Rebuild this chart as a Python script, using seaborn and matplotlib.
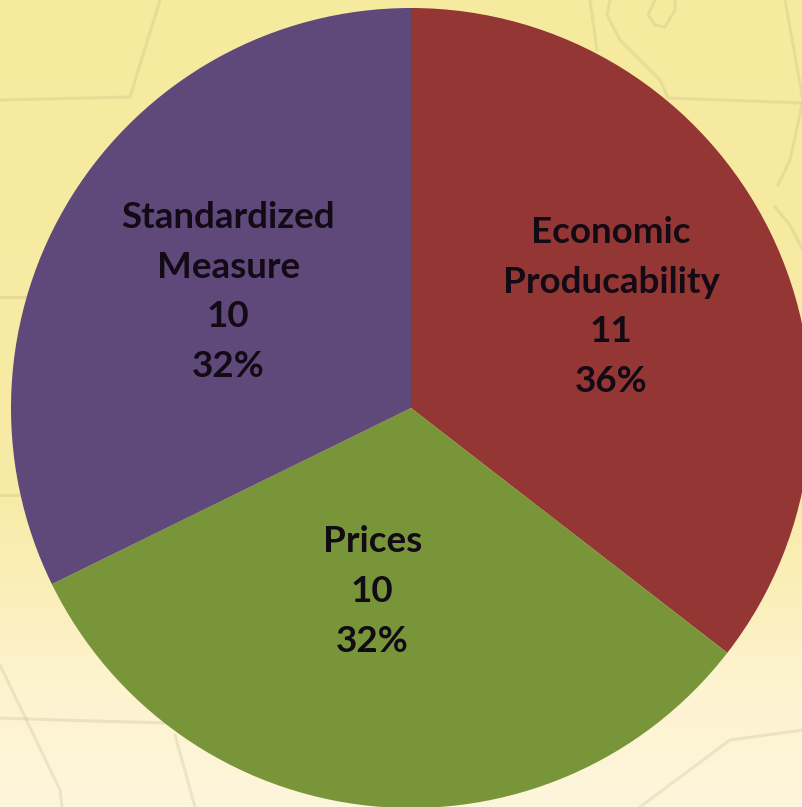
import numpy as np
import matplotlib
matplotlib.use("Agg")
import matplotlib.pyplot as plt
from matplotlib.colors import LinearSegmentedColormap
import seaborn as sns

sns.set_theme(style="white")
plt.rcParams['font.family'] = ['Lato', 'DejaVu Sans']

categories = ["Economic\nProducability", "Prices", "Standardized\nMeasure"]
values = [11, 10, 10]
percents = ["36%", "32%", "32%"]
colors = ["#943634", "#789639", "#5F497A"]
label_offsets = [(0.50, 0.2525), (-0.097, -0.4585), (-0.457, 0.29)]

W, H = 803, 807
fig = plt.figure(figsize=(W / 100, H / 100), dpi=100)

# page background: pale yellow wash with faint map outlines
bg = fig.add_axes([0, 0, 1, 1])
cmap = LinearSegmentedColormap.from_list(
    "wash", [(0, "#F6EA9F"), (0.6, "#F8EBA5"), (0.75, "#FBEFBC"), (0.85, "#FDF3CF"), (1, "#FDF6DC")])
bg.imshow(np.linspace(0, 1, 256)[:, None], aspect="auto", cmap=cmap, extent=[0, W, H, 0])
outlines = [
    ([0, 130, 160], [100, 97, 0]),
    ([0, 40], [297, 297]),
    ([0, 40], [495, 495]),
    ([0, 60, 165], [718, 720, 723]),
    ([0, 60, 62], [665, 790, 807]),
    ([175, 195], [735, 807]),
    ([590, 597], [0, 50]),
    ([610, 607, 620, 660, 668, 803], [0, 15, 40, 80, 98, 103]),
    ([655, 648, 655, 665, 675, 675], [0, 15, 25, 27, 10, 0]),
    ([785, 803, 790, 778], [0, 100, 160, 185]),
    ([775, 790, 803], [207, 225, 250]),
    ([640, 730, 803], [807, 740, 730]),
]
for xs, ys in outlines:
    bg.plot(xs, ys, color="#B5A97A", alpha=0.22, lw=2.2, solid_joinstyle="round")
bg.set_xlim(0, W)
bg.set_ylim(H, 0)
bg.axis("off")

# pie centred at (411, 408) with radius 400 px
ax = fig.add_axes([11 / W, (H - 808) / H, 800 / W, 800 / H])
ax.patch.set_alpha(0)
ax.pie(values, colors=colors, startangle=90, counterclock=False, radius=1.0,
       wedgeprops=dict(linewidth=0), frame=True)
ax.set_xlim(-1, 1)
ax.set_ylim(-1, 1)
ax.set_aspect("auto")
ax.axis("off")
for patch in ax.patches:
    patch.set_clip_on(False)

for cat, val, pct, (x, y) in zip(categories, values, percents, label_offsets):
    ax.text(x, y, f"{cat}\n{val}\n{pct}", ha="center", va="center", fontsize=26.5,
            fontweight="bold", color="#120A14", linespacing=1.615, clip_on=False)

fig.savefig("out.png", dpi=100)
